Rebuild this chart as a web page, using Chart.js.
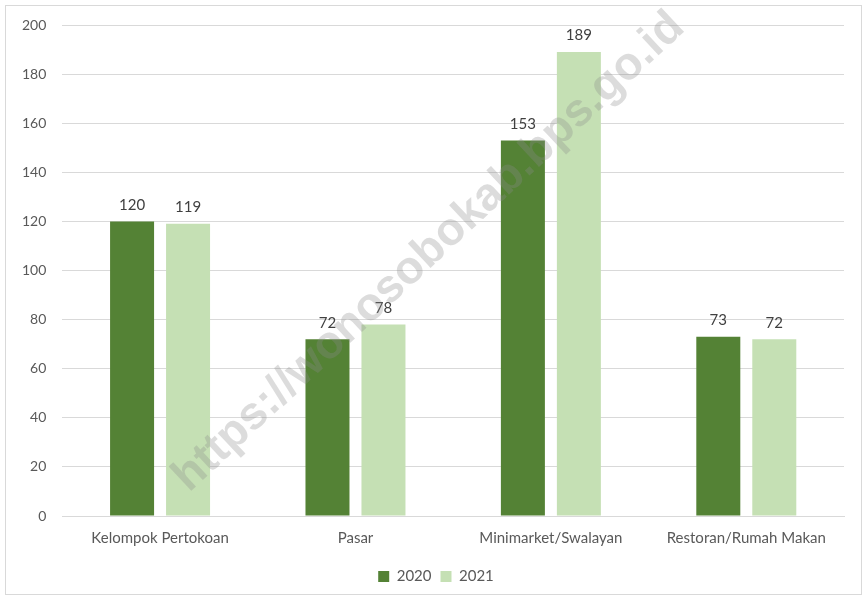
<!DOCTYPE html>
<html><head><meta charset="utf-8">
<script src="https://cdn.jsdelivr.net/npm/chart.js@4"></script>
<style>
html,body{margin:0;padding:0;background:#fff;}
#wrap{position:absolute;left:5px;top:5px;width:857px;height:590px;border:1px solid #d9d9d9;box-sizing:border-box;}
canvas{display:block;}
</style></head><body>
<div id="wrap"><canvas id="c"></canvas></div>
<script>
const categories = ["Kelompok Pertokoan", "Pasar", "Minimarket/Swalayan", "Restoran/Rumah Makan"];
const series2020 = [120, 72, 153, 73];
const series2021 = [119, 78, 189, 72];
const seriesNames = ["2020", "2021"];
const yTicks = [0, 20, 40, 60, 80, 100, 120, 140, 160, 180, 200];
const watermarkText = "https://wonosobokab.bps.go.id";

const FONT = "Lato, 'Noto Sans', sans-serif";

const labelPlugin = {
  id: 'labels',
  afterLayout(chart) {
    if (chart.legend) { chart.legend.left += 11; chart.legend.right += 11; }
  },
  afterDatasetsDraw(chart) {
    const ctx = chart.ctx;
    ctx.save();
    ctx.font = "15px " + FONT;
    ctx.fillStyle = "#404040";
    ctx.textAlign = "center";
    ctx.textBaseline = "bottom";
    chart.data.datasets.forEach((ds, i) => {
      chart.getDatasetMeta(i).data.forEach((bar, j) => {
        ctx.fillText(String(ds.data[j]), bar.x, bar.y - 9);
      });
    });
    ctx.restore();
  },
  afterDraw(chart) {
    const ctx = chart.ctx;
    ctx.save();
    ctx.translate(423, 246);
    ctx.rotate(-43 * Math.PI / 180);
    ctx.font = "bold 46px 'Liberation Sans', Arial, sans-serif";
    ctx.fillStyle = "rgba(140,140,140,0.3)";
    ctx.textAlign = "center";
    ctx.textBaseline = "middle";
    ctx.fillText(watermarkText, 0, 0);
    ctx.restore();
  }
};

new Chart(document.getElementById('c'), {
  type: 'bar',
  data: {
    labels: categories,
    datasets: [
      { label: seriesNames[0], data: series2020, backgroundColor: '#548235' },
      { label: seriesNames[1], data: series2021, backgroundColor: '#C5E0B4' }
    ]
  },
  options: {
    responsive: true,
    maintainAspectRatio: false,
    animation: false,
    devicePixelRatio: 1,
    layout: { padding: { left: 0, right: 17, top: 19, bottom: 0 } },
    datasets: { bar: { categoryPercentage: 0.573, barPercentage: 0.786 } },
    plugins: {
      legend: {
        position: 'bottom',
        labels: { font: { family: FONT, size: 15 }, color: '#595959', boxWidth: 11, boxHeight: 11, padding: 9 }
      },
      tooltip: { enabled: false }
    },
    scales: {
      x: {
        grid: { display: false, drawTicks: false },
        border: { color: '#d9d9d9' },
        ticks: { font: { family: FONT, size: 15 }, color: '#595959', padding: 13, maxRotation: 0 }
      },
      y: {
        min: 0, max: 200,
        afterBuildTicks(axis) { axis.ticks = yTicks.map(v => ({ value: v })); },
        afterFit(axis) { axis.paddingTop = 0; axis.paddingBottom = 0; },
        grid: { color: '#d9d9d9', drawTicks: false },
        border: { display: false },
        ticks: { font: { family: FONT, size: 14 }, color: '#595959', padding: 16 }
      }
    }
  },
  plugins: [labelPlugin]
});
</script>
</body></html>
